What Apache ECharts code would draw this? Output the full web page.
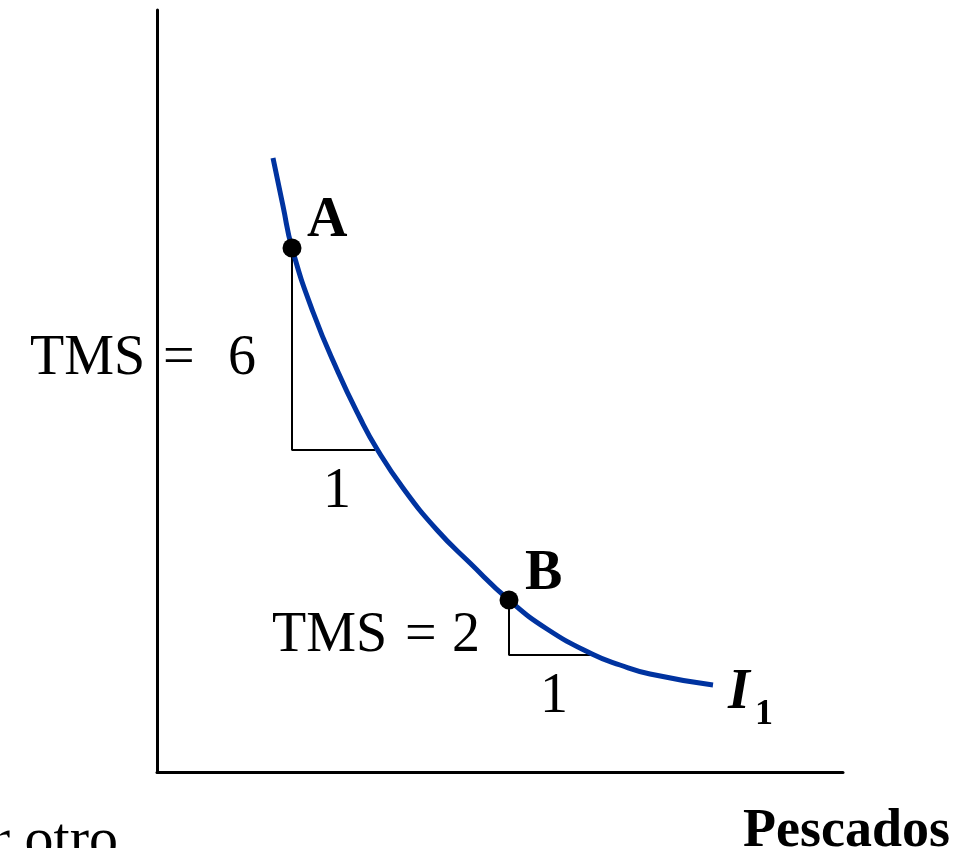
<!DOCTYPE html>
<html>
<head>
<meta charset="utf-8">
<script src="https://cdn.jsdelivr.net/npm/echarts@6/dist/echarts.min.js"></script>
<style>
  html, body { margin: 0; padding: 0; background: #fff; }
  #main { width: 972px; height: 848px; }
</style>
</head>
<body>
<div id="main"></div>
<script>
// curva de indiferencia I1 (x = pescados, y = otro bien)
var curveX = [116, 126, 135, 156, 181, 203, 220, 246, 280, 313, 352, 390, 435, 463, 493, 556];
var curveY = [614, 566, 524, 460, 400, 354, 323, 284, 242, 209, 172, 143, 118, 107, 98, 87];

// puntos A y B
var pointNames = ['A', 'B'];
var pointX = [135, 352];
var pointY = [524, 172];

// triángulos de la TMS: cateto vertical y horizontal
var triA = [[135, 524], [135, 322], [218, 322]];
var triB = [[352, 172], [352, 117], [435, 117]];

var serif = '"Liberation Serif", "Times New Roman", serif';

function zip(xs, ys) {
    var out = [];
    for (var i = 0; i < xs.length; i++) out.push([xs[i], ys[i]]);
    return out;
}

function txt(text, x, y, size, weight, style, align) {
    return {
        type: 'text',
        x: x,
        y: y,
        style: {
            text: text,
            fill: '#000',
            font: (style || 'normal') + ' ' + (weight || 'normal') + ' ' + size + 'px ' + serif,
            align: align || 'left',
            verticalAlign: 'middle'
        }
    };
}

var chart = echarts.init(document.getElementById('main'));

var option = {
    animation: false,
    backgroundColor: '#fff',
    grid: { left: 157, top: 10, width: 686, height: 762 },
    xAxis: {
        type: 'value', min: 0, max: 686,
        axisLine: { show: true, lineStyle: { color: '#000', width: 3 } },
        axisTick: { show: false }, axisLabel: { show: false }, splitLine: { show: false }
    },
    yAxis: {
        type: 'value', min: 0, max: 762,
        axisLine: { show: true, lineStyle: { color: '#000', width: 3 } },
        axisTick: { show: false }, axisLabel: { show: false }, splitLine: { show: false }
    },
    series: [
        {
            type: 'line', data: triA, symbol: 'none',
            lineStyle: { color: '#000', width: 2 }, z: 1
        },
        {
            type: 'line', data: triB, symbol: 'none',
            lineStyle: { color: '#000', width: 2 }, z: 1
        },
        {
            name: 'I1', type: 'line', data: zip(curveX, curveY), symbol: 'none',
            smooth: 0.5,
            lineStyle: { color: '#0033a0', width: 5 }, z: 2
        },
        {
            type: 'scatter', data: zip(pointX, pointY), symbolSize: 19,
            itemStyle: { color: '#000', opacity: 1 }, z: 3
        }
    ],
    graphic: [
        txt('TMS', 30, 359, 56),
        txt('=', 163, 359, 56),
        txt('6', 228, 359, 56),
        txt('1', 323, 492, 56),
        txt(pointNames[0], 307, 222, 56, 'bold'),
        txt(pointNames[1], 525, 575, 56, 'bold'),
        txt('TMS', 272, 636, 56),
        txt('=', 405, 636, 56),
        txt('2', 452, 636, 56),
        txt('1', 540, 697, 56),
        txt('I', 728, 694, 56, 'bold', 'italic'),
        txt('1', 755, 715, 36, 'bold'),
        txt('Pescados', 743, 832, 54, 'bold'),
        txt('por otro', 118, 842, 58, 'normal', 'normal', 'right')
    ]
};

chart.setOption(option);
</script>
</body>
</html>
